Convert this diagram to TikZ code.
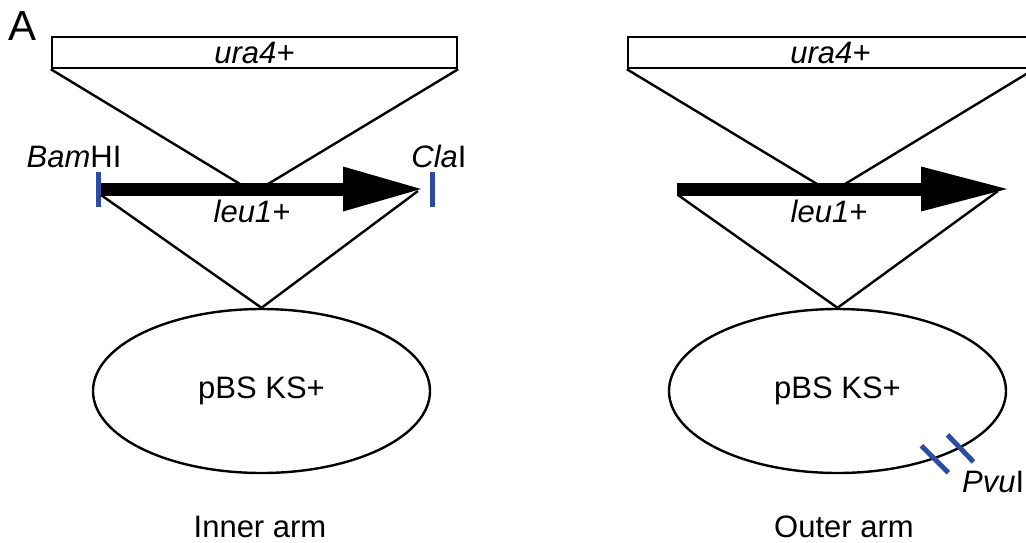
\documentclass[tikz,border=0pt]{standalone}
\usepackage{fontspec}
\setmainfont{Liberation Sans}
\usetikzlibrary{arrows.meta,shapes.geometric,calc}
\definecolor{siteblue}{RGB}{46,76,166}
\tikzset{
  gene/.style={draw, line width=2.4pt, minimum width=405pt, minimum height=31pt, inner sep=0pt,
    font=\fontsize{31}{36}\selectfont},
  vector/.style={ellipse, draw, line width=2.4pt, minimum width=337pt, minimum height=164pt,
    inner sep=0pt, font=\fontsize{31}{36}\selectfont},
  lbl/.style={anchor=base, inner sep=0pt, font=\fontsize{31}{36}\selectfont},
  armline/.style={line width=2.4pt},
  orf/.style={line width=13pt, -{Triangle[length=#1, width=45pt, line width=0pt]}},
  site/.style={siteblue, line width=5pt},
}
\begin{document}
\begin{tikzpicture}[x=1pt,y=-1pt]
    \useasboundingbox (0,0) rectangle (1026,542);
    \clip (0,0) rectangle (1026,542);

    \node[anchor=base west, inner sep=0pt, font=\fontsize{42}{48}\selectfont] (panel) at (8,40) {A};

    % Inner arm
    \node[gene] (uraL) at (254.5,52.5) {\textit{ura4+}};
    \coordinate (insL1) at (240,184);
    \coordinate (insL2) at (268,184);
    \draw[armline] (uraL.south west) -- (insL1);
    \draw[armline] (uraL.south east) -- (insL2);

    \coordinate (bamL) at (100,189);
    \coordinate (claL) at (421,189);
    \draw[orf=78pt] (bamL) -- (claL);
    \draw[site] ($(bamL)+(-2,-17)$) -- ($(bamL)+(-2,18)$);
    \draw[site] ($(claL)+(11,-17)$) -- ($(claL)+(11,18)$);
    \node[lbl] (bamlbl) at (74,167) {\textit{Bam}HI};
    \node[lbl] (clalbl) at (439,167) {\textit{Cla}I};
    \node[lbl] (leuL) at (252,222) {\textit{leu1+}};

    \node[vector] (pbsL) at (261.5,391) {pBS KS+};
    \coordinate (legL1) at (101,195);
    \coordinate (legL2) at (418,191);
    \draw[armline] (legL1) -- (pbsL.north) -- (legL2);
    \node[lbl] (innerlbl) at (260,537) {Inner arm};

    % Outer arm
    \node[gene] (uraR) at (830.5,52.5) {\textit{ura4+}};
    \coordinate (insR1) at (817,184);
    \coordinate (insR2) at (845,184);
    \draw[armline] (uraR.south west) -- (insR1);
    \draw[armline] (uraR.south east) -- (insR2);

    \coordinate (startR) at (677,189);
    \coordinate (endR) at (1007,189);
    \draw[orf=86pt] (startR) -- (endR);
    \node[lbl] (leuR) at (829,222) {\textit{leu1+}};

    \node[vector] (pbsR) at (837.5,391) {pBS KS+};
    \coordinate (legR1) at (678,195);
    \coordinate (legR2) at (998,191);
    \draw[armline] (legR1) -- (pbsR.north) -- (legR2);

    \coordinate (pvu1) at (pbsR.-35.9);
    \coordinate (pvu2) at (pbsR.-25.4);
    \draw[site] ($(pvu1)+(-13.5,-13.5)$) -- ($(pvu1)+(13.5,13.5)$);
    \draw[site] ($(pvu2)+(-13,-13.5)$) -- ($(pvu2)+(13,13.5)$);
    \node[lbl, anchor=base west] (pvulbl) at (962,492) {\textit{Pvu}I};
    \node[lbl] (outerlbl) at (844,537) {Outer arm};

\end{tikzpicture}
\end{document}
